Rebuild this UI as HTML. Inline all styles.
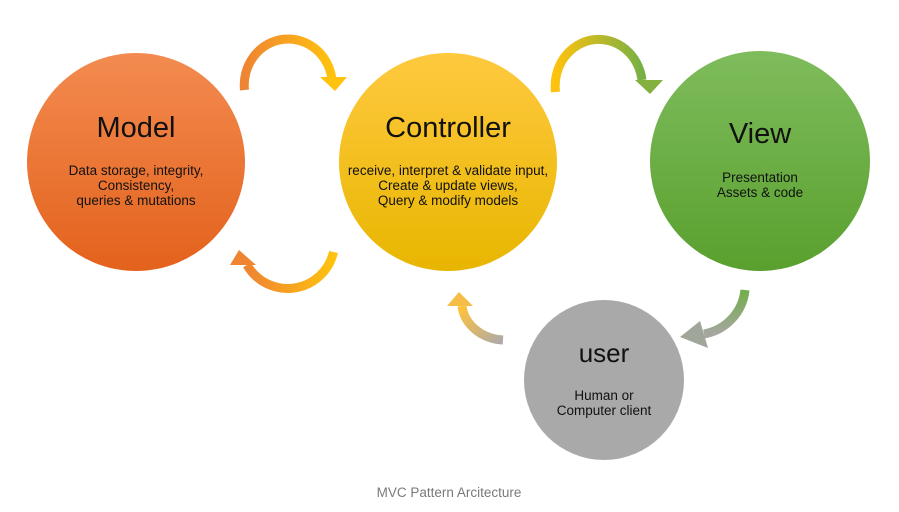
<!DOCTYPE html>
<html><head><meta charset="utf-8"><style>
html,body{margin:0;padding:0;background:#fff}
svg{display:block}
text{font-family:"Liberation Sans","DejaVu Sans",sans-serif;fill:#111;text-anchor:middle}
</style></head><body>
<svg width="899" height="512" viewBox="0 0 899 512" xmlns="http://www.w3.org/2000/svg">
<defs>
<linearGradient id="gm" x1="0" y1="0" x2="0" y2="1"><stop offset="0" stop-color="#f38b50"/><stop offset="1" stop-color="#e3621c"/></linearGradient>
<linearGradient id="gc" x1="0" y1="0" x2="0" y2="1"><stop offset="0" stop-color="#ffc93f"/><stop offset="1" stop-color="#e8b600"/></linearGradient>
<linearGradient id="gv" x1="0" y1="0" x2="0" y2="1"><stop offset="0" stop-color="#7fbc5c"/><stop offset="1" stop-color="#59a02e"/></linearGradient>
<linearGradient id="a1" x1="0" y1="0" x2="1" y2="0"><stop offset="0" stop-color="#ef8432"/><stop offset="1" stop-color="#ffc20e"/></linearGradient>
<linearGradient id="a2" x1="0" y1="0" x2="1" y2="0"><stop offset="0" stop-color="#ffc20e"/><stop offset="1" stop-color="#78b044"/></linearGradient>
<linearGradient id="a3" x1="0" y1="0" x2="1" y2="0"><stop offset="0" stop-color="#ef8432"/><stop offset="1" stop-color="#ffc20e"/></linearGradient>
<linearGradient id="a4" x1="1" y1="1" x2="0" y2="0"><stop offset="0" stop-color="#b0aaa8"/><stop offset="1" stop-color="#ffc23a"/></linearGradient>
<linearGradient id="a5" x1="0" y1="0" x2="0" y2="1"><stop offset="0" stop-color="#72ad4a"/><stop offset="1" stop-color="#a5a7a0"/></linearGradient>
</defs>
<path d="M244.5 90 A44 46 0 0 1 332 80" fill="none" stroke="url(#a1)" stroke-width="9"/>
<polygon points="320,77 347,77 335,91" fill="#ffc20e"/>
<path d="M555.5 92 A43 46 0 0 1 642 80" fill="none" stroke="url(#a2)" stroke-width="9"/>
<polygon points="635,80 663,80 650,94" fill="#84b040"/>
<path d="M333.5 252 A47 47 0 0 1 247 265" fill="none" stroke="url(#a3)" stroke-width="9"/>
<polygon points="230,265 256,265 239,250" fill="#ef8432"/>
<path d="M503 340 A44 38 0 0 1 462 306" fill="none" stroke="url(#a4)" stroke-width="9"/>
<polygon points="447,306 473,306 459,292" fill="#f5bd45"/>
<path d="M745 290 A50 50 0 0 1 704 334" fill="none" stroke="url(#a5)" stroke-width="9"/>
<polygon points="700,321 708,348 680,337" fill="#a0a69a"/>
<circle cx="136" cy="162" r="109" fill="url(#gm)"/>
<circle cx="448" cy="162" r="109" fill="url(#gc)"/>
<circle cx="760" cy="161" r="110" fill="url(#gv)"/>
<circle cx="604" cy="380" r="80" fill="#a9a9a9"/>
<text x="136" y="137" font-size="29">Model</text>
<text x="136" y="175" font-size="13.5">Data storage, integrity,</text>
<text x="136" y="190" font-size="13.5">Consistency,</text>
<text x="136" y="205" font-size="13.5">queries &amp; mutations</text>
<text x="448" y="137" font-size="29">Controller</text>
<text x="448" y="175" font-size="13.5">receive, interpret &amp; validate input,</text>
<text x="448" y="190" font-size="13.5">Create &amp; update views,</text>
<text x="448" y="205" font-size="13.5">Query &amp; modify models</text>
<text x="760" y="143" font-size="29">View</text>
<text x="760" y="182" font-size="13.5">Presentation</text>
<text x="760" y="197" font-size="13.5">Assets &amp; code</text>
<text x="604" y="362" font-size="26">user</text>
<text x="604" y="400" font-size="13.5">Human or</text>
<text x="604" y="415" font-size="13.5">Computer client</text>
<text x="449" y="497" font-size="13.5" style="fill:#7a7a7a">MVC Pattern Arcitecture</text>
</svg>
</body></html>
